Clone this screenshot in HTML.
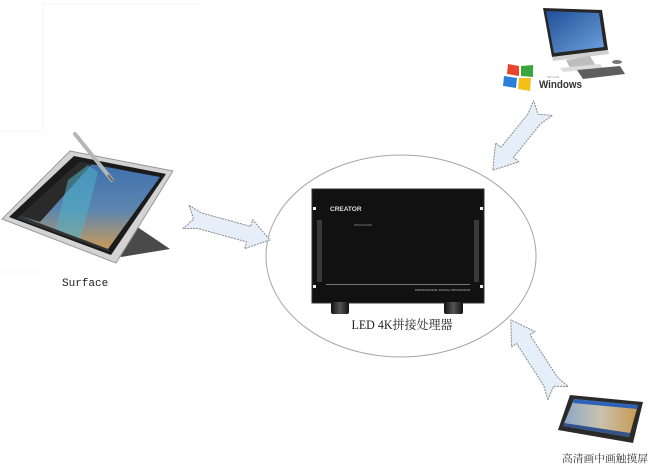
<!DOCTYPE html>
<html>
<head>
<meta charset="utf-8">
<style>
html,body{margin:0;padding:0;background:#fff;}
svg{display:block;}
</style>
</head>
<body>
<svg width="650" height="471" viewBox="0 0 650 471" xmlns="http://www.w3.org/2000/svg">
<defs>
  <linearGradient id="scr" x1="0" y1="0" x2="0" y2="1">
    <stop offset="0" stop-color="#3d6fae"/>
    <stop offset="0.55" stop-color="#5c86b0"/>
    <stop offset="1" stop-color="#c99a58"/>
  </linearGradient>
  <linearGradient id="mon" x1="0" y1="0" x2="1" y2="1">
    <stop offset="0" stop-color="#1f4f98"/>
    <stop offset="1" stop-color="#6ea2dc"/>
  </linearGradient>
  <linearGradient id="tch" x1="0" y1="0" x2="1" y2="0">
    <stop offset="0" stop-color="#8aa6c8"/>
    <stop offset="0.5" stop-color="#c9c2ae"/>
    <stop offset="1" stop-color="#c89a50"/>
  </linearGradient>
  <linearGradient id="foot" x1="0" y1="0" x2="1" y2="0">
    <stop offset="0" stop-color="#111"/>
    <stop offset="0.5" stop-color="#555"/>
    <stop offset="1" stop-color="#111"/>
  </linearGradient>
</defs>

<rect width="650" height="471" fill="#fff"/>

<!-- faint image borders -->
<line x1="43" y1="4" x2="43" y2="130" stroke="#f4f4f4" stroke-width="1"/>
<line x1="43" y1="4" x2="200" y2="4" stroke="#f6f6f6" stroke-width="1"/>
<line x1="0" y1="131" x2="43" y2="131" stroke="#f4f4f4" stroke-width="1"/>
<line x1="0" y1="272" x2="43" y2="272" stroke="#f6f6f6" stroke-width="1"/>

<!-- Ellipse -->
<ellipse cx="401" cy="256" rx="135" ry="101" fill="none" stroke="#a5a5a5" stroke-width="1"/>

<!-- Arrows -->
<g fill="#e6eef9" stroke="#8a8a8a" stroke-width="1" stroke-dasharray="2,1" stroke-linejoin="round">
  <g transform="translate(186,217) rotate(15.3)">
    <polygon points="0,-12 14,-8 65,-8 65,-15 87,0 65,15 65,8 14,8 0,12 8,0"/>
  </g>
  <g transform="translate(543,108) rotate(128.9)">
    <polygon points="0,-12 14,-8 57,-8 57,-15 80,0 57,15 57,8 14,8 0,12 8,0"/>
  </g>
  <g transform="translate(558,393) rotate(237.2)">
    <polygon points="0,-12 14,-8 64,-8 64,-14 87,0 64,14 64,8 14,8 0,12 8,0"/>
  </g>
</g>

<!-- Surface tablet -->
<polygon points="127,220 170,249 121,257 112,246" fill="#4a4a4a"/>
<polygon points="70,151 173,171 116,263 2,219" fill="#d3d3d3" stroke="#999" stroke-width="1"/>
<polygon points="74,156 166,174 111,255 9,217" fill="#1b1b1b"/>
<polygon points="80,162 160,177 108,249 20,216" fill="url(#scr)"/>
<polygon points="80,162 92,164 40,222 20,216" fill="#2a2a2a"/>
<polygon points="68,180 88,165 98,172 80,240 55,232" fill="#4fb3c8" opacity="0.55"/>
<polygon points="20,216 108,249 110,252 16,218" fill="#333"/>
<line x1="75" y1="134" x2="112" y2="180" stroke="#b5b5b5" stroke-width="4" stroke-linecap="round"/>
<line x1="108" y1="175" x2="113" y2="181" stroke="#666" stroke-width="2"/>
<text x="62" y="286" font-family="'Liberation Mono', monospace" font-size="11" fill="#222">Surface</text>

<!-- Desktop -->
<polygon points="543,8 602,10 608,50 552,57" fill="#262626"/>
<polygon points="546,11 599,13 604,47 554,53" fill="url(#mon)"/>
<polygon points="552,57 608,50 609,54 553,61" fill="#cfcfcf"/>
<polygon points="566,60 590,56 596,66 570,68" fill="#bdbdbd"/>
<polygon points="560,68 600,64 603,68 563,72" fill="#dcdcdc"/>
<polygon points="577,70 620,66 625,74 583,79" fill="#5e5e5e"/>
<ellipse cx="617" cy="62" rx="5" ry="2" fill="#777"/>

<!-- Windows logo -->
<polygon points="508,64 519,66 519,76 507,74" fill="#e8452c"/>
<polygon points="521,66 533,65 533,77 521,76" fill="#3aa53a"/>
<polygon points="504,76 517,78 516,88 503,86" fill="#2b7fd8"/>
<polygon points="519,78 531,78 530,91 518,89" fill="#f3c018"/>
<text x="547" y="78" font-family="'Liberation Sans', sans-serif" font-size="3" fill="#999">Microsoft</text>
<text x="539" y="88" font-family="'Liberation Sans', sans-serif" font-size="11" font-weight="bold" fill="#333" textLength="43" lengthAdjust="spacingAndGlyphs">Windows</text>

<!-- LED Processor device -->
<rect x="312" y="189" width="172" height="114" fill="#111"/>
<rect x="312" y="189" width="172" height="114" fill="none" stroke="#333" stroke-width="1"/>
<rect x="317" y="220" width="5" height="62" fill="#3a3a3a"/>
<rect x="474" y="220" width="5" height="62" fill="#3a3a3a"/>
<rect x="313" y="207" width="3" height="3" fill="#eee"/>
<rect x="313" y="285" width="3" height="3" fill="#eee"/>
<rect x="480" y="207" width="3" height="3" fill="#eee"/>
<rect x="480" y="285" width="3" height="3" fill="#eee"/>
<line x1="326" y1="284.5" x2="470" y2="284.5" stroke="#777" stroke-width="1"/>
<text x="330" y="211" font-family="'Liberation Sans', sans-serif" font-size="6.5" font-weight="bold" fill="#ddd">CREATOR</text>
<text x="354" y="226" font-family="'Liberation Sans', sans-serif" font-size="2.5" fill="#999">PWR RUN ERR</text>
<text x="415" y="291" font-family="'Liberation Sans', sans-serif" font-size="3" fill="#bbb" textLength="55">PROFESSIONAL DIGITAL PROCESSOR</text>
<rect x="331" y="302" width="18" height="12" rx="2" fill="url(#foot)"/>
<rect x="444" y="302" width="19" height="12" rx="2" fill="url(#foot)"/>
<text x="402" y="329" text-anchor="middle" font-family="'Liberation Serif', 'Noto Serif CJK SC', serif" font-size="12.5" fill="#222" textLength="101" lengthAdjust="spacingAndGlyphs">LED 4K拼接处理器</text>

<!-- Touchscreen -->
<polygon points="570,395 643,402 633,443 558,430" fill="#2a2a2a"/>
<polygon points="574,399 638,405 629,437 563,426" fill="url(#tch)"/>
<polygon points="574,399 638,405 637,409 573,403" fill="#2d62b8"/>
<polygon points="564,423 630,433 629,437 563,426" fill="#34528a"/>
<text x="562" y="462" font-family="'Liberation Serif', 'Noto Serif CJK SC', serif" font-size="10.5" fill="#333" textLength="86" lengthAdjust="spacingAndGlyphs">高清画中画触摸屏</text>
</svg>
</body>
</html>
